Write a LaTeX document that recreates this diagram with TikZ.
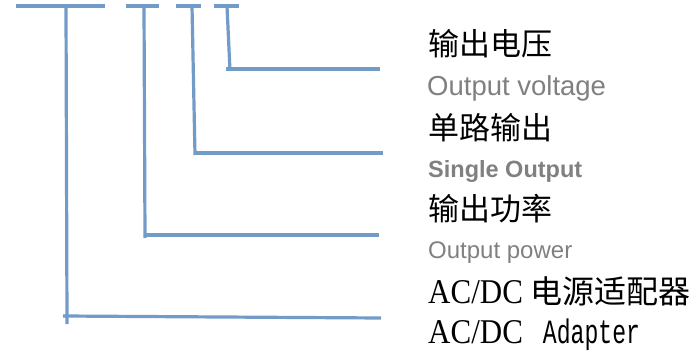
\documentclass[tikz,border=0pt]{standalone}
\usepackage{fontspec}
\setmainfont{Liberation Serif}
\newfontfamily\cjk{Noto Sans CJK SC}
\newfontfamily\arial{Liberation Sans}
\newfontfamily\monof{Liberation Mono}
\definecolor{linec}{RGB}{114,155,199}
\definecolor{greytxt}{RGB}{128,128,128}
\tikzset{
  bracket/.style={draw=linec, line width=3.2pt},
  zh/.style={anchor=base west, inner sep=0pt, font=\cjk\fontsize{31}{36}\selectfont},
  en/.style={anchor=base west, inner sep=0pt, text=greytxt, font=\arial\fontsize{25}{30}\selectfont},
  mixed/.style={anchor=base west, inner sep=0pt, font=\fontsize{31}{36}\selectfont},
}
\newcommand{\acdc}{\scalebox{1}[1.12]{AC/DC}}
\begin{document}
\begin{tikzpicture}[x=1pt,y=-1pt]
\useasboundingbox (0,0) rectangle (697,356);
% bracket 1 (AC/DC adapter)
\coordinate (a1l) at (16,6);   \coordinate (a1r) at (105,6);
\coordinate (a1t) at (66,6);   \coordinate (a1b) at (67,324);
\coordinate (a1s) at (63,316); \coordinate (a1e) at (381,318);
% bracket 2 (output power)
\coordinate (a2l) at (126,6);  \coordinate (a2r) at (159,6);
\coordinate (a2t) at (144,6);  \coordinate (a2b) at (145,238);
\coordinate (a2s) at (145,235);\coordinate (a2e) at (379,235);
% bracket 3 (single output)
\coordinate (a3l) at (176,6);  \coordinate (a3r) at (201,6);
\coordinate (a3t) at (192,6);  \coordinate (a3b) at (195,155);
\coordinate (a3s) at (194,153);\coordinate (a3e) at (383,153);
% bracket 4 (output voltage)
\coordinate (a4l) at (214,6);  \coordinate (a4r) at (239,6);
\coordinate (a4t) at (227,6);  \coordinate (a4b) at (230,71);
\coordinate (a4s) at (226,69); \coordinate (a4e) at (380,69);
\foreach \i in {1,2,3,4}{
  \draw[bracket] (a\i l) -- (a\i r);
  \draw[bracket] (a\i t) -- (a\i b);
  \draw[bracket] (a\i s) -- (a\i e);
}
% labels
\node[zh] (t1) at (428,55) {输出电压};
\node[en, font=\arial\fontsize{27.5}{32}\selectfont] (t2) at (427,95) {Output voltage};
\node[zh] (t3) at (428,139) {单路输出};
\node[en, font=\arial\bfseries\fontsize{23.5}{28}\selectfont] (t4) at (428,177) {Single Output};
\node[zh] (t5) at (428,220) {输出功率};
\node[en, font=\arial\fontsize{24}{28}\selectfont] (t6) at (428,258) {Output power};
\node[mixed] (t7) at (428,303) {\acdc\ {\cjk\fontsize{32}{36}\selectfont 电源适配器}};
\node[mixed] (t8) at (428,343) {\acdc\hspace{20pt}\scalebox{0.68}[1]{\monof\fontsize{34}{36}\selectfont Adapter}};
\end{tikzpicture}
\end{document}
